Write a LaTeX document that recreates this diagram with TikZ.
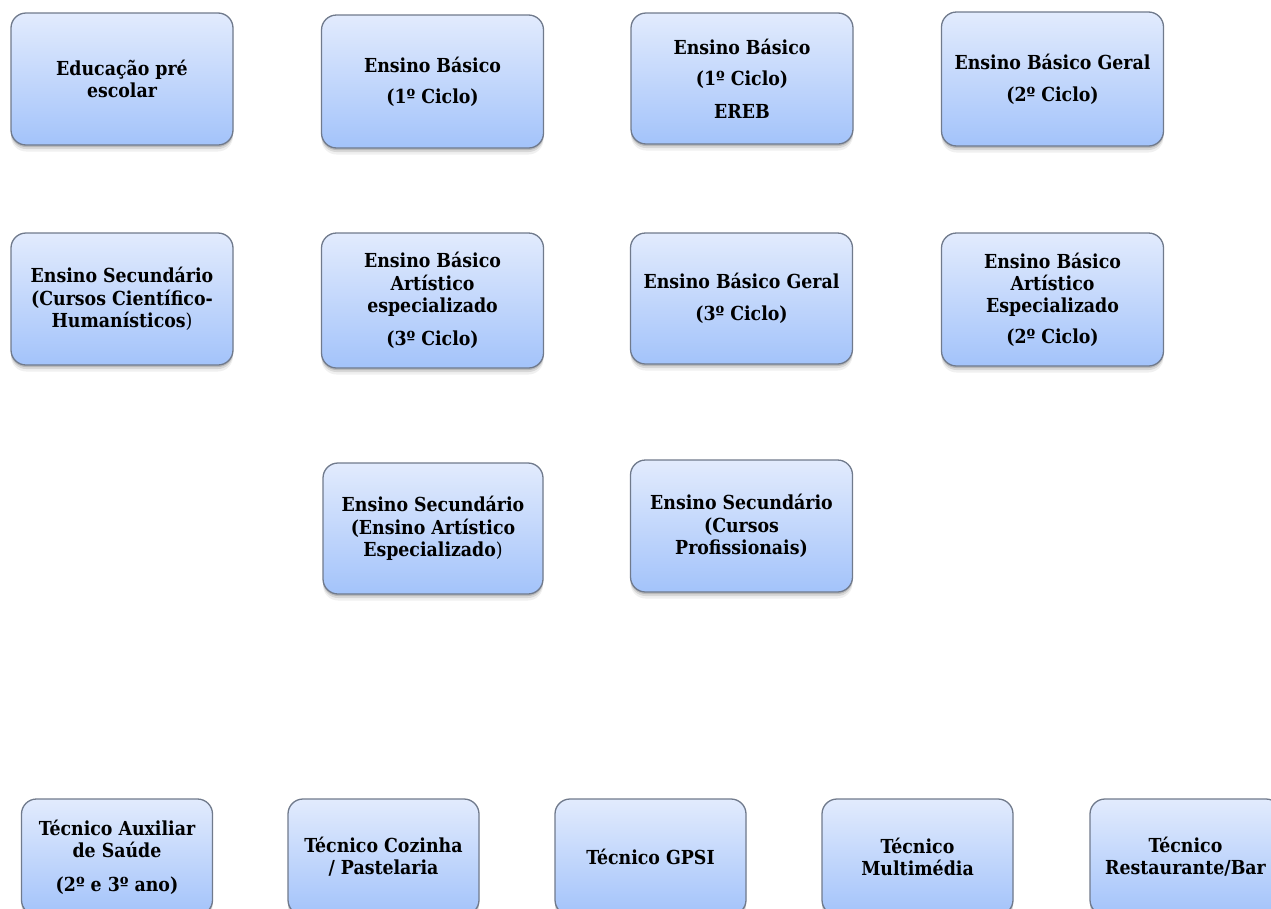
\documentclass[tikz,border=0pt]{standalone}
\usepackage{fontspec}
\newfontfamily\boxfam{DejaVu Serif Condensed}
\usetikzlibrary{shadows}
\definecolor{boxtop}{RGB}{226,235,253}
\definecolor{boxbot}{RGB}{163,195,250}
\definecolor{boxborder}{RGB}{112,122,140}
\tikzset{
  box/.style={draw=boxborder, line width=1.3pt, rounded corners=15pt,
    top color=boxtop, bottom color=boxbot, align=center, inner sep=0pt,
    font=\boxfam\bfseries\fontsize{19.3}{22.3}\selectfont,
    general shadow={fill=black, opacity=0.14, shadow yshift=-2pt},
    general shadow={fill=black, opacity=0.10, shadow yshift=-4pt},
    general shadow={fill=black, opacity=0.06, shadow yshift=-6.5pt}},
  bigbox/.style={box, minimum width=222pt, minimum height=132pt},
  lowbox/.style={box, minimum width=191pt, minimum height=116pt}
}
\begin{document}
\begin{tikzpicture}[x=1pt,y=-1pt]
\useasboundingbox (0,0) rectangle (1271,908);
\clip (0,0) rectangle (1271,908);
% row 1
\node[bigbox] (r1a) at (122,79) {Educação pré\\escolar};
\node[bigbox, minimum height=133pt] (r1b) at (432.5,81.5) {Ensino Básico\\[9pt](1º Ciclo)};
\node[bigbox, minimum height=131pt] (r1c) at (742,78.5) {Ensino Básico\\[9pt](1º Ciclo)\\[10pt]EREB};
\node[bigbox, minimum height=134pt] (r1d) at (1052.5,79) {Ensino Básico Geral\\[10pt](2º Ciclo)};
% row 2
\node[bigbox] (r2a) at (122,299) {Ensino Secundário\\(Cursos Científico-\\Humanísticos\textmd{)}};
\node[bigbox, minimum height=135pt] (r2b) at (432.5,300.5) {Ensino Básico\\Artístico\\especializado\\[11pt](3º Ciclo)};
\node[bigbox, minimum height=131pt] (r2c) at (741.5,298.5) {Ensino Básico Geral\\[10pt](3º Ciclo)};
\node[bigbox, minimum height=133pt] (r2d) at (1052.5,299.5) {Ensino Básico\\Artístico\\Especializado\\[8pt](2º Ciclo)};
% row 3
\node[bigbox, minimum width=220pt, minimum height=131pt] (r3a) at (433,528.5) {Ensino Secundário\\(Ensino Artístico\\Especializado\textmd{)}};
\node[bigbox] (r3b) at (741.5,526) {Ensino Secundário\\(Cursos\\Profissionais)};
% row 4
\node[lowbox] (r4a) at (117,857) {Técnico Auxiliar\\de Saúde\\[11pt](2º e 3º ano)};
\node[lowbox] (r4b) at (383.5,857) {Técnico Cozinha\\/ Pastelaria};
\node[lowbox] (r4c) at (650.5,857) {Técnico GPSI};
\node[lowbox] (r4d) at (917.5,857) {Técnico\\Multimédia};
\node[lowbox] (r4e) at (1185.5,857) {Técnico\\Restaurante/Bar};
\end{tikzpicture}
\end{document}
